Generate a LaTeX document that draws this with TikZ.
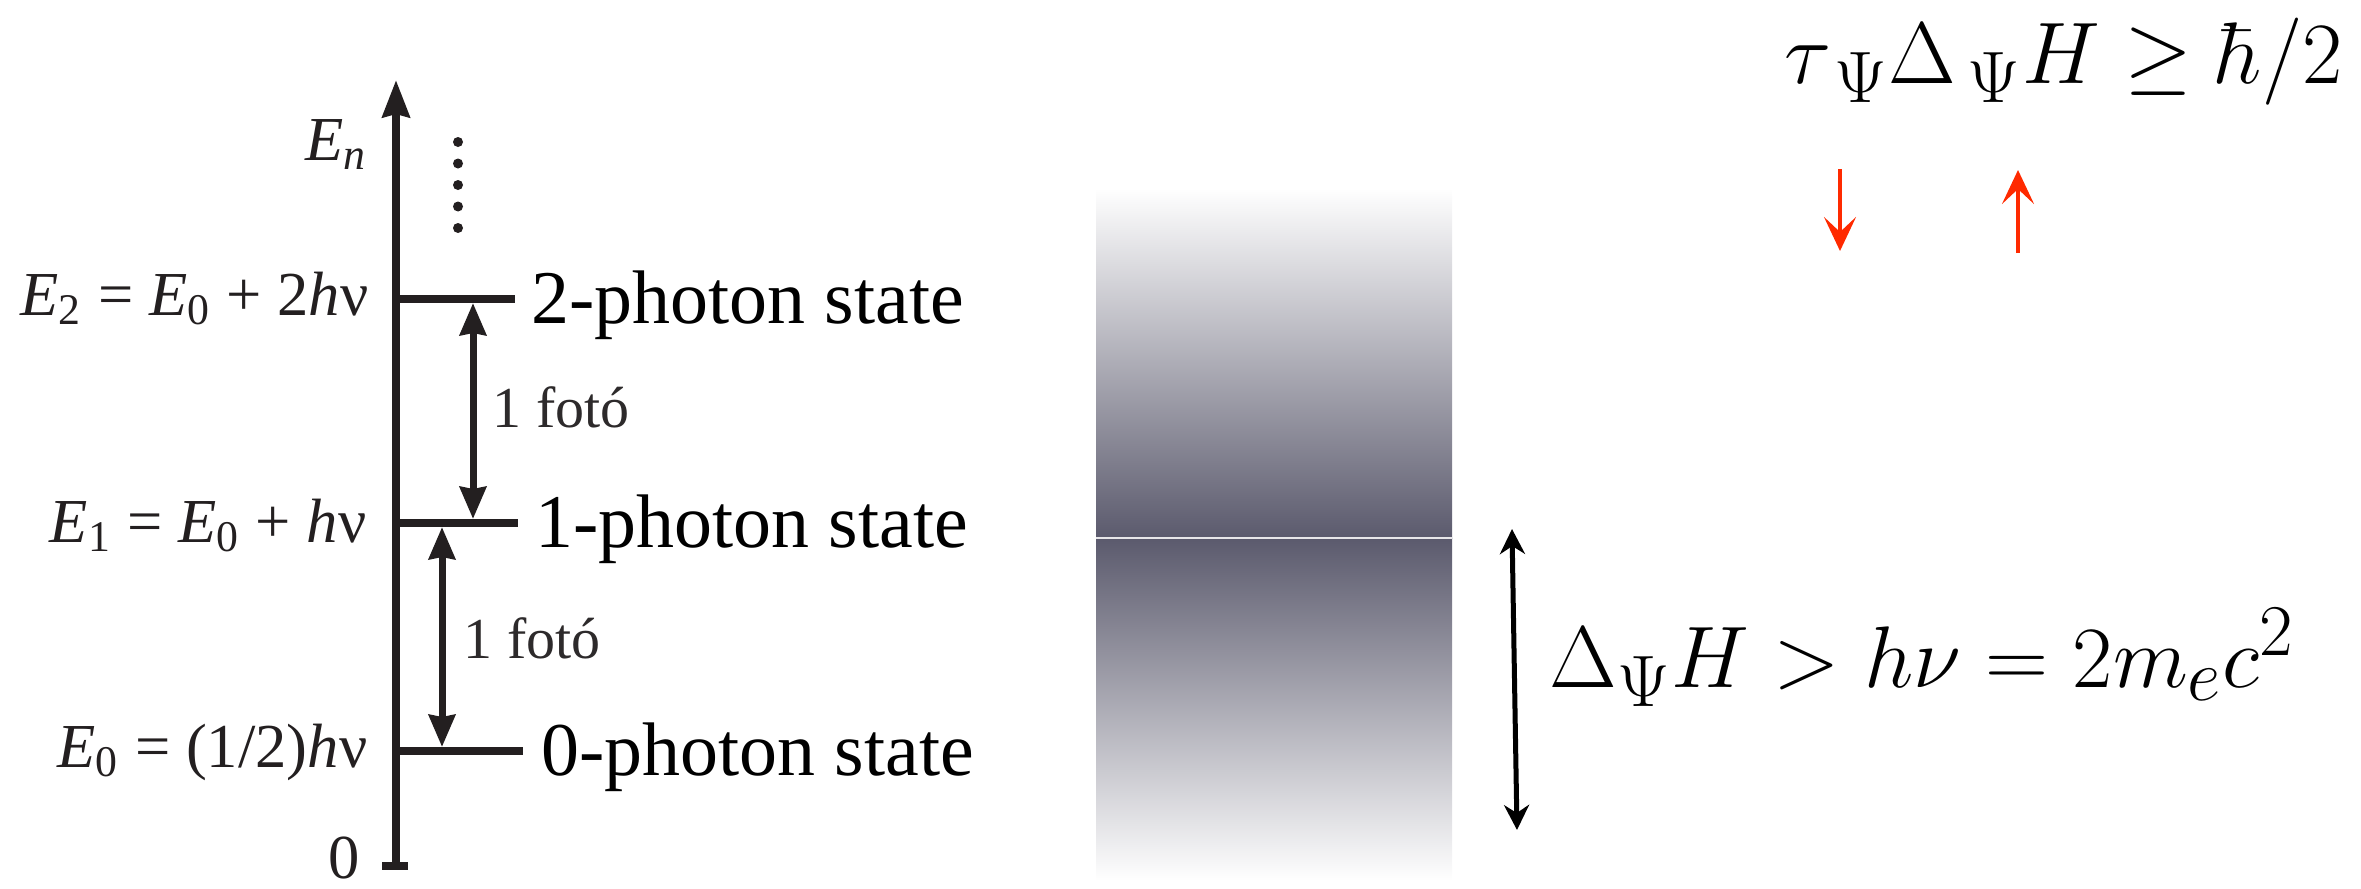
\documentclass[tikz,border=0pt]{standalone}
\usepackage{fontspec}
\usepackage{amsmath}
\usepackage{amssymb}
\usepackage{tikz}
\usetikzlibrary{arrows.meta}
\newfontfamily\timesfont{Liberation Serif}
\definecolor{inkdark}{RGB}{35,31,32}
\definecolor{fotogray}{RGB}{45,42,43}
\definecolor{gapdark}{RGB}{91,90,109}
\definecolor{spinred}{RGB}{255,42,0}
\tikzset{
  axline/.style={draw=inkdark,line width=0.08cm},
  lvline/.style={draw=inkdark,line width=0.08cm},
  dblarrow/.style={draw=inkdark,line width=0.07cm,{Stealth[length=0.32cm,width=0.26cm,inset=0.02cm]}-{Stealth[length=0.32cm,width=0.26cm,inset=0.02cm]}},
  gaparrow/.style={draw=black,line width=0.05cm,{Stealth[length=0.25cm,width=0.25cm,inset=0.08cm]}-{Stealth[length=0.25cm,width=0.25cm,inset=0.08cm]}},
  redarrow/.style={draw=spinred,line width=0.035cm,-{Stealth[length=0.34cm,width=0.32cm,inset=0.15cm]}},
  lvtxt/.style={anchor=base east,inner sep=0pt,text=inkdark,font=\timesfont\fontsize{17.8}{21}\selectfont},
  statetxt/.style={anchor=base west,inner sep=0pt,text=black,font=\timesfont\fontsize{21.6}{26}\selectfont},
  fototxt/.style={anchor=base west,inner sep=0pt,text=fotogray,font=\timesfont\fontsize{16.5}{20}\selectfont},
  mathtxt/.style={inner sep=0pt,font=\fontsize{24.88}{30}\selectfont},
}
\newcommand{\itE}{{\itshape E}}

\begin{document}
\begin{tikzpicture}
  \useasboundingbox (0,0) rectangle (23.61,8.88);

  % energy axis
  \coordinate (origin) at (3.96,0.22);
  \coordinate (axtop) at (3.96,8.08);
  \coordinate (tickl) at (3.82,0.22);
  \coordinate (tickr) at (4.08,0.22);
  \draw[axline,-{Stealth[length=0.37cm,width=0.27cm,inset=0.03cm]}] (origin) -- (axtop);
  \draw[axline] (tickl) -- (tickr);
  \node[lvtxt] (zero) at (3.60,0.10) {0};
  \node[lvtxt] (en) at (3.68,7.28) {\itE\textsubscript{\itshape n}};
  \foreach \k in {0,...,4}
    \fill[inkdark] (4.58,7.46-0.215*\k) circle (0.05);

  % levels
  \coordinate (lv2a) at (3.96,5.89); \coordinate (lv2b) at (5.15,5.89);
  \coordinate (lv1a) at (3.96,3.65); \coordinate (lv1b) at (5.18,3.65);
  \coordinate (lv0a) at (3.96,1.37); \coordinate (lv0b) at (5.23,1.37);
  \draw[lvline] (lv2a) -- (lv2b);
  \draw[lvline] (lv1a) -- (lv1b);
  \draw[lvline] (lv0a) -- (lv0b);
  \node[lvtxt] (e2) at (3.69,5.73) {\itE\textsubscript{2} = \itE\textsubscript{0} + 2{\itshape h}ν};
  \node[lvtxt] (e1) at (3.67,3.46) {\itE\textsubscript{1} = \itE\textsubscript{0} + {\itshape h}ν};
  \node[lvtxt] (e0) at (3.68,1.21) {\itE\textsubscript{0} = (1/2){\itshape h}ν};
  \node[statetxt] (st2) at (5.31,5.65) {2-photon state};
  \node[statetxt] (st1) at (5.35,3.41) {1-photon state};
  \node[statetxt] (st0) at (5.41,1.13) {0-photon state};

  % transitions
  \coordinate (up2) at (4.73,5.85); \coordinate (up1) at (4.73,3.69);
  \coordinate (lo1) at (4.42,3.61); \coordinate (lo0) at (4.42,1.41);
  \draw[dblarrow] (up2) -- (up1);
  \draw[dblarrow] (lo1) -- (lo0);
  \node[fototxt] (f21) at (4.92,4.61) {1 fotó};
  \node[fototxt] (f10) at (4.63,2.30) {1 fotó};

  % energy gap band
  \shade[top color=white,bottom color=gapdark] (10.96,3.50) rectangle (14.52,7.00);
  \shade[top color=gapdark,bottom color=white] (10.96,0.07) rectangle (14.52,3.50);
  \draw[white!85!gapdark,line width=0.4pt] (10.96,3.50) -- (14.52,3.50);

  % gap width
  \coordinate (gaptop) at (15.12,3.59);
  \coordinate (gapbot) at (15.17,0.58);
  \draw[gaparrow] (gaptop) -- (gapbot);
  \node[mathtxt,anchor=base west] (gapeq) at (15.49,2.01) {$\Delta_\Psi H > h\nu = 2m_ec^2$};

  % uncertainty relation
  \node[mathtxt,anchor=base east] (uncert) at (23.43,8.05) {$\tau_{\,\Psi}\Delta_{\,\Psi}H \geq \hbar/2$};
  \coordinate (dntop) at (18.40,7.19); \coordinate (dnbot) at (18.40,6.37);
  \coordinate (upbot) at (20.18,6.35); \coordinate (uptop) at (20.18,7.18);
  \draw[redarrow] (dntop) -- (dnbot);
  \draw[redarrow] (upbot) -- (uptop);
\end{tikzpicture}
\end{document}
